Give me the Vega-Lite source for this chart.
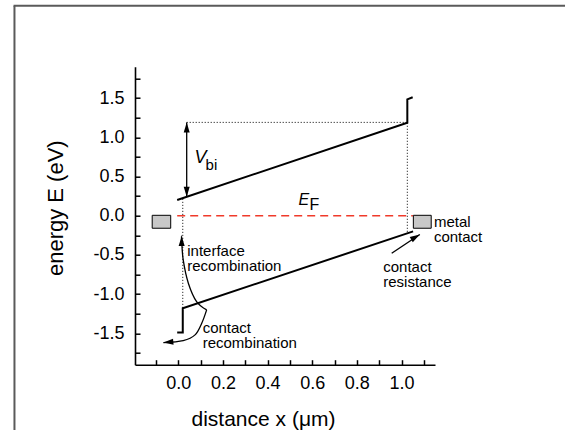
{
  "$schema": "https://vega.github.io/schema/vega-lite/v6.json",
  "width": 300,
  "height": 298,
  "autosize": {"type": "none"},
  "padding": {"left": 135, "top": 66.7, "right": 133, "bottom": 67.3},
  "background": "white",
  "config": {"font": "Liberation Sans", "view": {"stroke": null}},
  "datasets": {
    "frameLeft": [{"x": -0.734, "E": -2.733, "E2": 2.678}],
    "frameTop": [{"x": -0.738, "x2": 1.7325, "E": 2.678}],
    "bands": [
      {"g": "cb", "i": 0, "x": -0.005, "E": 0.2},
      {"g": "cb", "i": 1, "x": 1.026, "E": 1.185},
      {"g": "cb", "i": 2, "x": 1.026, "E": 1.483},
      {"g": "cb", "i": 3, "x": 1.05, "E": 1.51},
      {"g": "vb", "i": 0, "x": -0.005, "E": -1.49},
      {"g": "vb", "i": 1, "x": 0.02, "E": -1.49},
      {"g": "vb", "i": 2, "x": 0.02, "E": -1.18},
      {"g": "vb", "i": 3, "x": 1.052, "E": -0.2}
    ],
    "dotted": [
      {"g": "top", "i": 0, "x": 0.0376, "E": 1.19},
      {"g": "top", "i": 1, "x": 1.026, "E": 1.19},
      {"g": "left", "i": 0, "x": 0.02, "E": 0.215},
      {"g": "left", "i": 1, "x": 0.02, "E": -1.18},
      {"g": "right", "i": 0, "x": 1.026, "E": 1.185},
      {"g": "right", "i": 1, "x": 1.026, "E": -0.21}
    ],
    "fermi": [{"g": "ef", "i": 0, "x": -0.005, "E": 0}, {"g": "ef", "i": 1, "x": 1.051, "E": 0}],
    "contacts": [
      {"x": -0.117, "x2": -0.034, "E": 0.005, "E2": -0.16},
      {"x": 1.053, "x2": 1.133, "E": 0.005, "E2": -0.16}
    ],
    "arrows": [
      {"g": "vbi", "i": 0, "x": 0.0376, "E": 1.19},
      {"g": "vbi", "i": 1, "x": 0.0376, "E": 0.242},
      {"g": "cr", "i": 0, "x": 0.956, "E": -0.479},
      {"g": "cr", "i": 1, "x": 1.082, "E": -0.24},
      {"g": "ir", "i": 0, "x": 0.127, "E": -1.201},
      {"g": "ir", "i": 1, "x": 0.082, "E": -1.096},
      {"g": "ir", "i": 2, "x": 0.045, "E": -0.861},
      {"g": "ir", "i": 3, "x": 0.022, "E": -0.564},
      {"g": "ir", "i": 4, "x": 0.015, "E": -0.31},
      {"g": "ir", "i": 5, "x": 0.015, "E": -0.259},
      {"g": "crec", "i": 0, "x": 0.127, "E": -1.201},
      {"g": "crec", "i": 1, "x": 0.105, "E": -1.371},
      {"g": "crec", "i": 2, "x": 0.075, "E": -1.52},
      {"g": "crec", "i": 3, "x": 0.022, "E": -1.592},
      {"g": "crec", "i": 4, "x": -0.067, "E": -1.618}
    ],
    "labels": [
      {"t": "interface", "x": 0.04, "E": -0.513},
      {"t": "recombination", "x": 0.04, "E": -0.7},
      {"t": "contact", "x": 0.109, "E": -1.498},
      {"t": "recombination", "x": 0.109, "E": -1.689},
      {"t": "metal", "x": 1.145, "E": -0.14},
      {"t": "contact", "x": 1.145, "E": -0.335},
      {"t": "contact", "x": 0.918, "E": -0.721},
      {"t": "resistance", "x": 0.918, "E": -0.904}
    ]
  },
  "encoding": {
    "x": {
      "field": "x", "type": "quantitative",
      "scale": {"domain": [-0.194, 1.15], "nice": false, "zero": false},
      "axis": {
        "title": "distance x (μm)",
        "values": [-0.1, 0, 0.1, 0.2, 0.3, 0.4, 0.5, 0.6, 0.7, 0.8, 0.9, 1.0, 1.1],
        "labelExpr": "abs(datum.value - round(datum.value*5)/5) < 0.001 ? format(datum.value, '.1f') : ''",
        "tickSize": -5,
        "grid": false, "domainColor": "black", "domainWidth": 1.6, "tickColor": "black", "tickWidth": 1.5,
        "labelFontSize": 18, "labelColor": "black", "labelPadding": 15, "labelFlush": false, "labelOverlap": false,
        "titleFontSize": 21, "titleFontWeight": "normal", "titleColor": "black",
        "titleX": 128, "titleY": 61, "titleBaseline": "alphabetic", "titleAlign": "center"
      }
    },
    "y": {
      "field": "E", "type": "quantitative",
      "scale": {"domain": [-1.9, 1.9], "nice": false, "zero": false},
      "axis": {
        "title": "energy E (eV)",
        "values": [-1.75, -1.5, -1.25, -1, -0.75, -0.5, -0.25, 0, 0.25, 0.5, 0.75, 1, 1.25, 1.5, 1.75],
        "labelExpr": "abs(datum.value - round(datum.value*2)/2) < 0.001 ? replace(format(datum.value, '.1f'), '−', '-') : ''",
        "tickSize": -5,
        "grid": false, "domainColor": "black", "domainWidth": 1.6, "tickColor": "black", "tickWidth": 1.5,
        "labelFontSize": 18, "labelColor": "black", "labelPadding": 16, "labelFlush": false, "labelOverlap": false,
        "titleFontSize": 22, "titleFontWeight": "normal", "titleColor": "black",
        "titleX": -73, "titleY": 141, "titleAngle": -90, "titleBaseline": "alphabetic", "titleAlign": "center"
      }
    }
  },
  "layer": [
    {
      "data": {"name": "frameLeft"},
      "mark": {"type": "rule", "color": "#5a5a5a", "strokeWidth": 2, "clip": false},
      "encoding": {"y2": {"field": "E2"}}
    },
    {
      "data": {"name": "frameTop"},
      "mark": {"type": "rule", "color": "#5a5a5a", "strokeWidth": 2, "clip": false},
      "encoding": {"x2": {"field": "x2"}}
    },
    {
      "data": {"name": "dotted"},
      "mark": {"type": "line", "color": "black", "strokeWidth": 1, "strokeDash": [1, 2]},
      "encoding": {"detail": {"field": "g"}, "order": {"field": "i"}}
    },
    {
      "data": {"name": "fermi"},
      "mark": {"type": "line", "color": "#f03a2a", "strokeWidth": 1.6, "strokeDash": [8, 5]},
      "encoding": {"order": {"field": "i"}}
    },
    {
      "data": {"name": "bands"},
      "mark": {"type": "line", "color": "black", "strokeWidth": 2},
      "encoding": {"detail": {"field": "g"}, "order": {"field": "i"}}
    },
    {
      "data": {"name": "contacts"},
      "mark": {"type": "rect", "fill": "#c8c8c8", "stroke": "black", "strokeWidth": 1},
      "encoding": {"x2": {"field": "x2"}, "y2": {"field": "E2"}}
    },
    {
      "data": {"name": "arrows"},
      "mark": {"type": "line", "color": "black", "strokeWidth": 1.3, "interpolate": "cardinal"},
      "encoding": {"detail": {"field": "g"}, "order": {"field": "i"}}
    },
    {
      "data": {"values": [{"x": 0.0376, "E": 1.19}, {"x": 0.015, "E": -0.259}]},
      "mark": {"type": "point", "shape": "M0,0L-0.6,2L0.6,2Z", "size": 100, "filled": true, "color": "black", "opacity": 1, "strokeWidth": 0, "angle": 0}
    },
    {
      "data": {"values": [{"x": 0.0376, "E": 0.242}]},
      "mark": {"type": "point", "shape": "M0,0L-0.6,2L0.6,2Z", "size": 100, "filled": true, "color": "black", "opacity": 1, "strokeWidth": 0, "angle": 180}
    },
    {
      "data": {"values": [{"x": -0.067, "E": -1.618}]},
      "mark": {"type": "point", "shape": "M0,0L-0.6,2L0.6,2Z", "size": 100, "filled": true, "color": "black", "opacity": 1, "strokeWidth": 0, "angle": 265}
    },
    {
      "data": {"values": [{"x": 1.082, "E": -0.24}]},
      "mark": {"type": "point", "shape": "M0,0L-0.6,2L0.6,2Z", "size": 100, "filled": true, "color": "black", "opacity": 1, "strokeWidth": 0, "angle": 59}
    },
    {
      "data": {"name": "labels"},
      "mark": {"type": "text", "align": "left", "baseline": "alphabetic", "fontSize": 15, "color": "black"},
      "encoding": {"text": {"field": "t"}}
    },
    {
      "data": {"values": [{"t": "V", "x": 0.0726, "E": 0.671}]},
      "mark": {"type": "text", "align": "left", "baseline": "alphabetic", "fontSize": 18, "fontStyle": "italic", "color": "black"},
      "encoding": {"text": {"field": "t"}}
    },
    {
      "data": {"values": [{"t": "E", "x": 0.5385, "E": 0.136}]},
      "mark": {"type": "text", "align": "left", "baseline": "alphabetic", "fontSize": 16, "fontStyle": "italic", "color": "black"},
      "encoding": {"text": {"field": "t"}}
    },
    {
      "data": {"values": [{"t": "bi", "x": 0.122, "E": 0.582}]},
      "mark": {"type": "text", "align": "left", "baseline": "alphabetic", "fontSize": 15, "color": "black"},
      "encoding": {"text": {"field": "t"}}
    },
    {
      "data": {"values": [{"t": "F", "x": 0.588, "E": 0.073}]},
      "mark": {"type": "text", "align": "left", "baseline": "alphabetic", "fontSize": 16, "color": "black"},
      "encoding": {"text": {"field": "t"}}
    }
  ]
}
